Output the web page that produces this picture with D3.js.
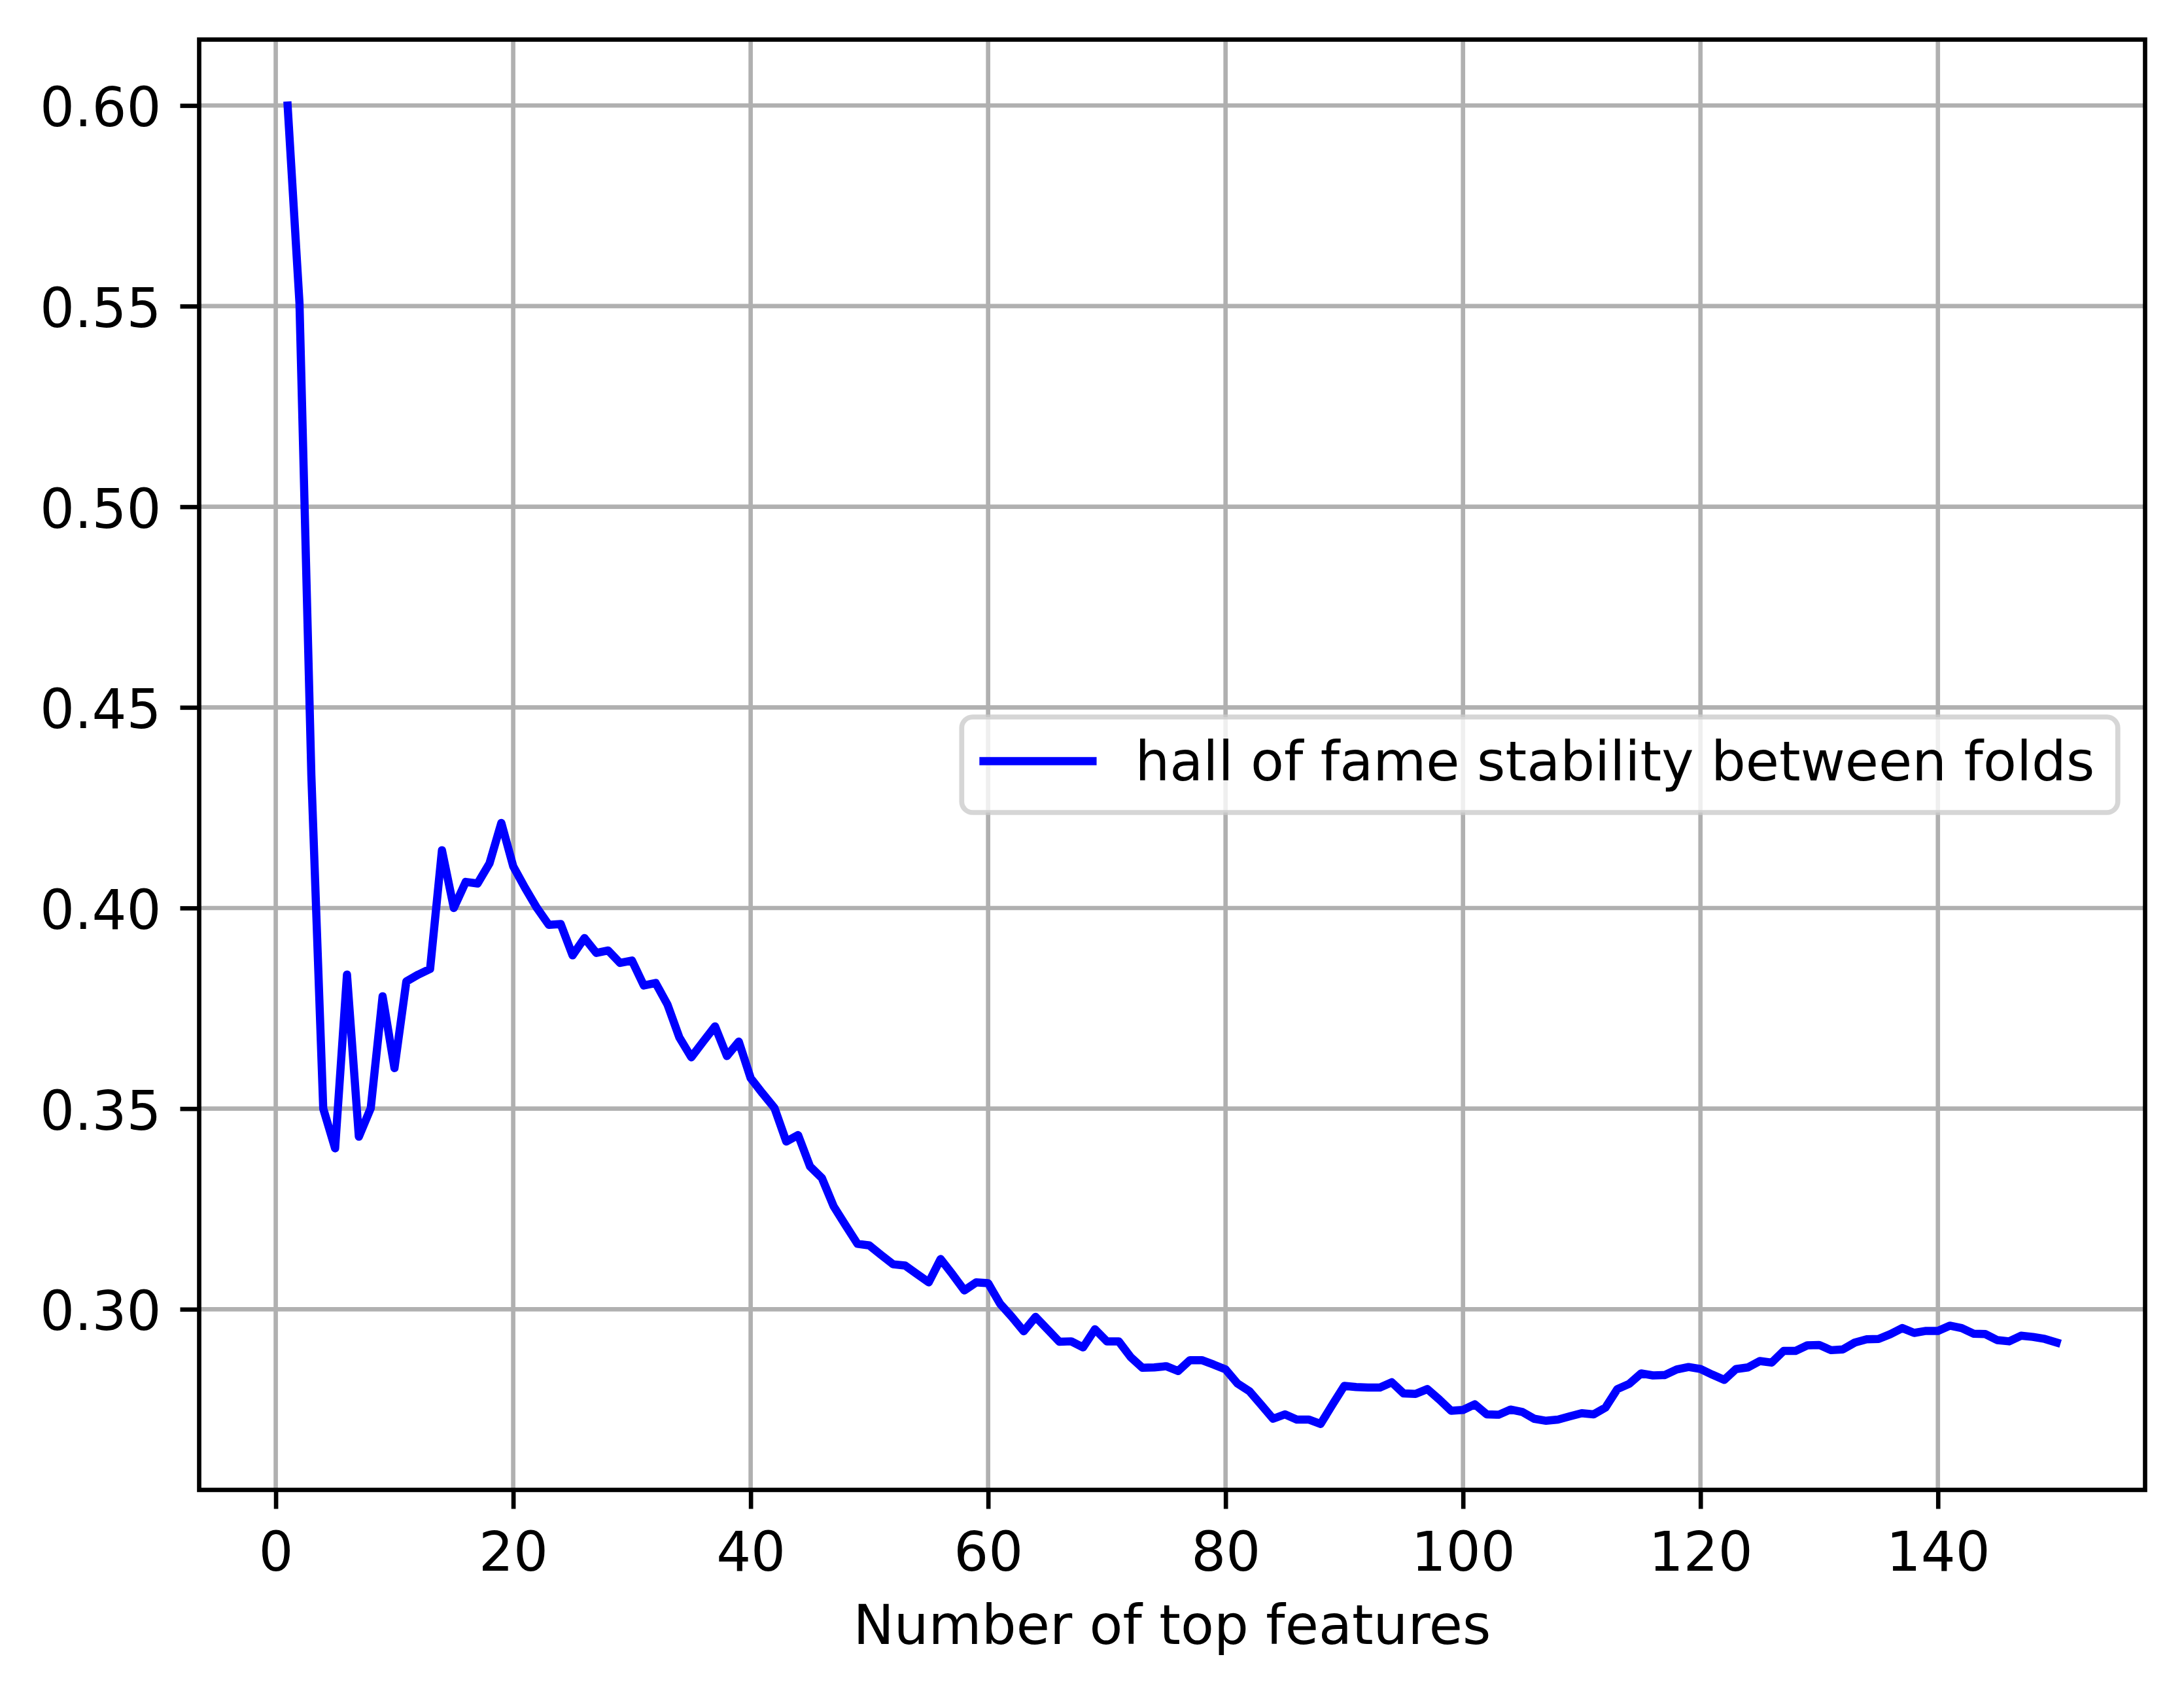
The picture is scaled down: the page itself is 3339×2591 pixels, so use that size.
<!DOCTYPE html>
<html>
<head>
<meta charset="utf-8">
<script src="https://cdn.jsdelivr.net/npm/d3@7"></script>
<style>
  html, body { margin: 0; padding: 0; background: #fff; }
  svg { display: block; }
  text { font-family: "DejaVu Sans", sans-serif; }
</style>
</head>
<body>
<svg id="chart" width="3339" height="2591"></svg>
<script>
// ---- data ----
const featureCounts = d3.range(1, 151);
const stability = [
  0.600, 0.5507, 0.433, 0.350, 0.3401, 0.3834, 0.3430, 0.3501, 0.3780, 0.3601,
  0.3817, 0.3834, 0.3848, 0.4144, 0.4000, 0.4065, 0.4061, 0.4111, 0.4212, 0.4104,
  0.4050, 0.4000, 0.3958, 0.3960, 0.3882, 0.3925, 0.3888, 0.3894, 0.3863, 0.3869,
  0.3807, 0.3813, 0.3759, 0.3677, 0.3628, 0.3667, 0.3705, 0.3631, 0.3667, 0.3576,
  0.3538, 0.3502, 0.3418, 0.3434, 0.3356, 0.3327, 0.3256, 0.3209, 0.3163, 0.3159,
  0.3135, 0.3112, 0.3109, 0.3088, 0.3067, 0.3125, 0.3087, 0.3047, 0.3067, 0.3065,
  0.3014, 0.2981, 0.2945, 0.2981, 0.2950, 0.2919, 0.2920, 0.2905, 0.2950, 0.2920,
  0.2920, 0.2881, 0.2854, 0.2855, 0.2858, 0.2846, 0.2873, 0.2873, 0.2862, 0.2850,
  0.2815, 0.2796, 0.2762, 0.2727, 0.2738, 0.2725, 0.2725, 0.2714, 0.2762, 0.2809,
  0.2806, 0.2805, 0.2805, 0.2818, 0.2790, 0.2789, 0.2801, 0.2775, 0.2747, 0.2749,
  0.2763, 0.2738, 0.2737, 0.2750, 0.2744, 0.2727, 0.2722, 0.2725, 0.2733, 0.2741,
  0.2738, 0.2755, 0.2801, 0.2814, 0.2840, 0.2835, 0.2836, 0.2850, 0.2856, 0.2851,
  0.2837, 0.2824, 0.2851, 0.2855, 0.2871, 0.2867, 0.2896, 0.2896, 0.2910, 0.2911,
  0.2898, 0.2900, 0.2917, 0.2925, 0.2926, 0.2938, 0.2953, 0.2941, 0.2946, 0.2946,
  0.2959, 0.2953, 0.2939, 0.2938, 0.2923, 0.2920, 0.2934, 0.2931, 0.2926, 0.2917
];
const xTicks = [0, 20, 40, 60, 80, 100, 120, 140];
const yTicks = [0.30, 0.35, 0.40, 0.45, 0.50, 0.55, 0.60];
const seriesLabel = "hall of fame stability between folds";
const xLabel = "Number of top features";

// ---- layout ----
const W = 3339, H = 2591;
const m = { left: 304.5, top: 60.5, right: 3279.5, bottom: 2277.5 };
const FS = 83.3;          // 10pt at 600dpi
const LW = 6.67;          // 0.8pt
const lineW = 12.5;       // 1.5pt
const tickLen = 29;

const svg = d3.select("#chart");
svg.append("rect").attr("width", W).attr("height", H).attr("fill", "#fff");

const data = featureCounts.map((x, i) => ({ x, y: stability[i] }));
const [x0, x1] = d3.extent(featureCounts);
const [y0, y1] = d3.extent(stability);
const xPad = (x1 - x0) * 0.05, yPad = (y1 - y0) * 0.05;

const x = d3.scaleLinear().domain([x0 - xPad, x1 + xPad]).range([m.left, m.right]);
const y = d3.scaleLinear().domain([y0 - yPad, y1 + yPad]).range([m.bottom, m.top]);

// grid
const grid = svg.append("g").attr("stroke", "#b0b0b0").attr("stroke-width", LW);
grid.selectAll("line.vx").data(xTicks).join("line")
  .attr("x1", d => x(d)).attr("x2", d => x(d))
  .attr("y1", m.top).attr("y2", m.bottom);
grid.selectAll("line.hy").data(yTicks).join("line")
  .attr("x1", m.left).attr("x2", m.right)
  .attr("y1", d => y(d)).attr("y2", d => y(d));

// series line
const clipId = "plotclip";
svg.append("clipPath").attr("id", clipId).append("rect")
  .attr("x", m.left).attr("y", m.top)
  .attr("width", m.right - m.left).attr("height", m.bottom - m.top);
svg.append("path")
  .datum(data)
  .attr("clip-path", `url(#${clipId})`)
  .attr("fill", "none")
  .attr("stroke", "#0000ff")
  .attr("stroke-width", lineW)
  .attr("stroke-linejoin", "round")
  .attr("stroke-linecap", "square")
  .attr("d", d3.line().x(d => x(d.x)).y(d => y(d.y)));

// axes
const xAxis = d3.axisBottom(x).tickValues(xTicks).tickSize(tickLen).tickFormat(d3.format("d"));
const gx = svg.append("g").attr("transform", `translate(0,${m.bottom})`).call(xAxis);
gx.select(".domain").remove();
gx.selectAll(".tick line").attr("stroke", "#000").attr("stroke-width", LW);
gx.selectAll(".tick text").attr("y", 123).attr("dy", null)
  .attr("font-size", FS).attr("fill", "#000").attr("font-family", "DejaVu Sans");

const yAxis = d3.axisLeft(y).tickValues(yTicks).tickSize(tickLen).tickFormat(d3.format(".2f"));
const gy = svg.append("g").attr("transform", `translate(${m.left},0)`).call(yAxis);
gy.select(".domain").remove();
gy.selectAll(".tick line").attr("stroke", "#000").attr("stroke-width", LW);
gy.selectAll(".tick text").attr("x", -58).attr("dy", 31.5)
  .attr("font-size", FS).attr("fill", "#000").attr("font-family", "DejaVu Sans");

// spines
svg.append("rect")
  .attr("x", m.left).attr("y", m.top)
  .attr("width", m.right - m.left).attr("height", m.bottom - m.top)
  .attr("fill", "none").attr("stroke", "#000").attr("stroke-width", LW)
  .attr("stroke-linecap", "square");

// x label
svg.append("text")
  .attr("x", (m.left + m.right) / 2).attr("y", 2513)
  .attr("text-anchor", "middle").attr("font-size", FS).attr("fill", "#000")
  .text(xLabel);

// legend (center right)
const legW = 1767.5, legH = 146;
const legX = m.right - 41.7 - legW;
const legY = (m.top + m.bottom) / 2 - legH / 2;
const leg = svg.append("g");
leg.append("rect")
  .attr("x", legX).attr("y", legY).attr("width", legW).attr("height", legH)
  .attr("rx", 16.7).attr("ry", 16.7)
  .attr("fill", "rgba(255,255,255,0.8)")
  .attr("stroke", "rgba(204,204,204,0.8)").attr("stroke-width", 7.7);
const hx0 = legX + 33.3;
leg.append("line")
  .attr("x1", hx0).attr("x2", hx0 + 166.7)
  .attr("y1", legY + legH / 2 - 5.5).attr("y2", legY + legH / 2 - 5.5)
  .attr("stroke", "#0000ff").attr("stroke-width", lineW).attr("stroke-linecap", "square");
leg.append("text")
  .attr("x", hx0 + 166.7 + 66.7 - 1.5).attr("y", 1193)
  .attr("font-size", FS).attr("fill", "#000")
  .text(seriesLabel);
</script>
</body>
</html>
